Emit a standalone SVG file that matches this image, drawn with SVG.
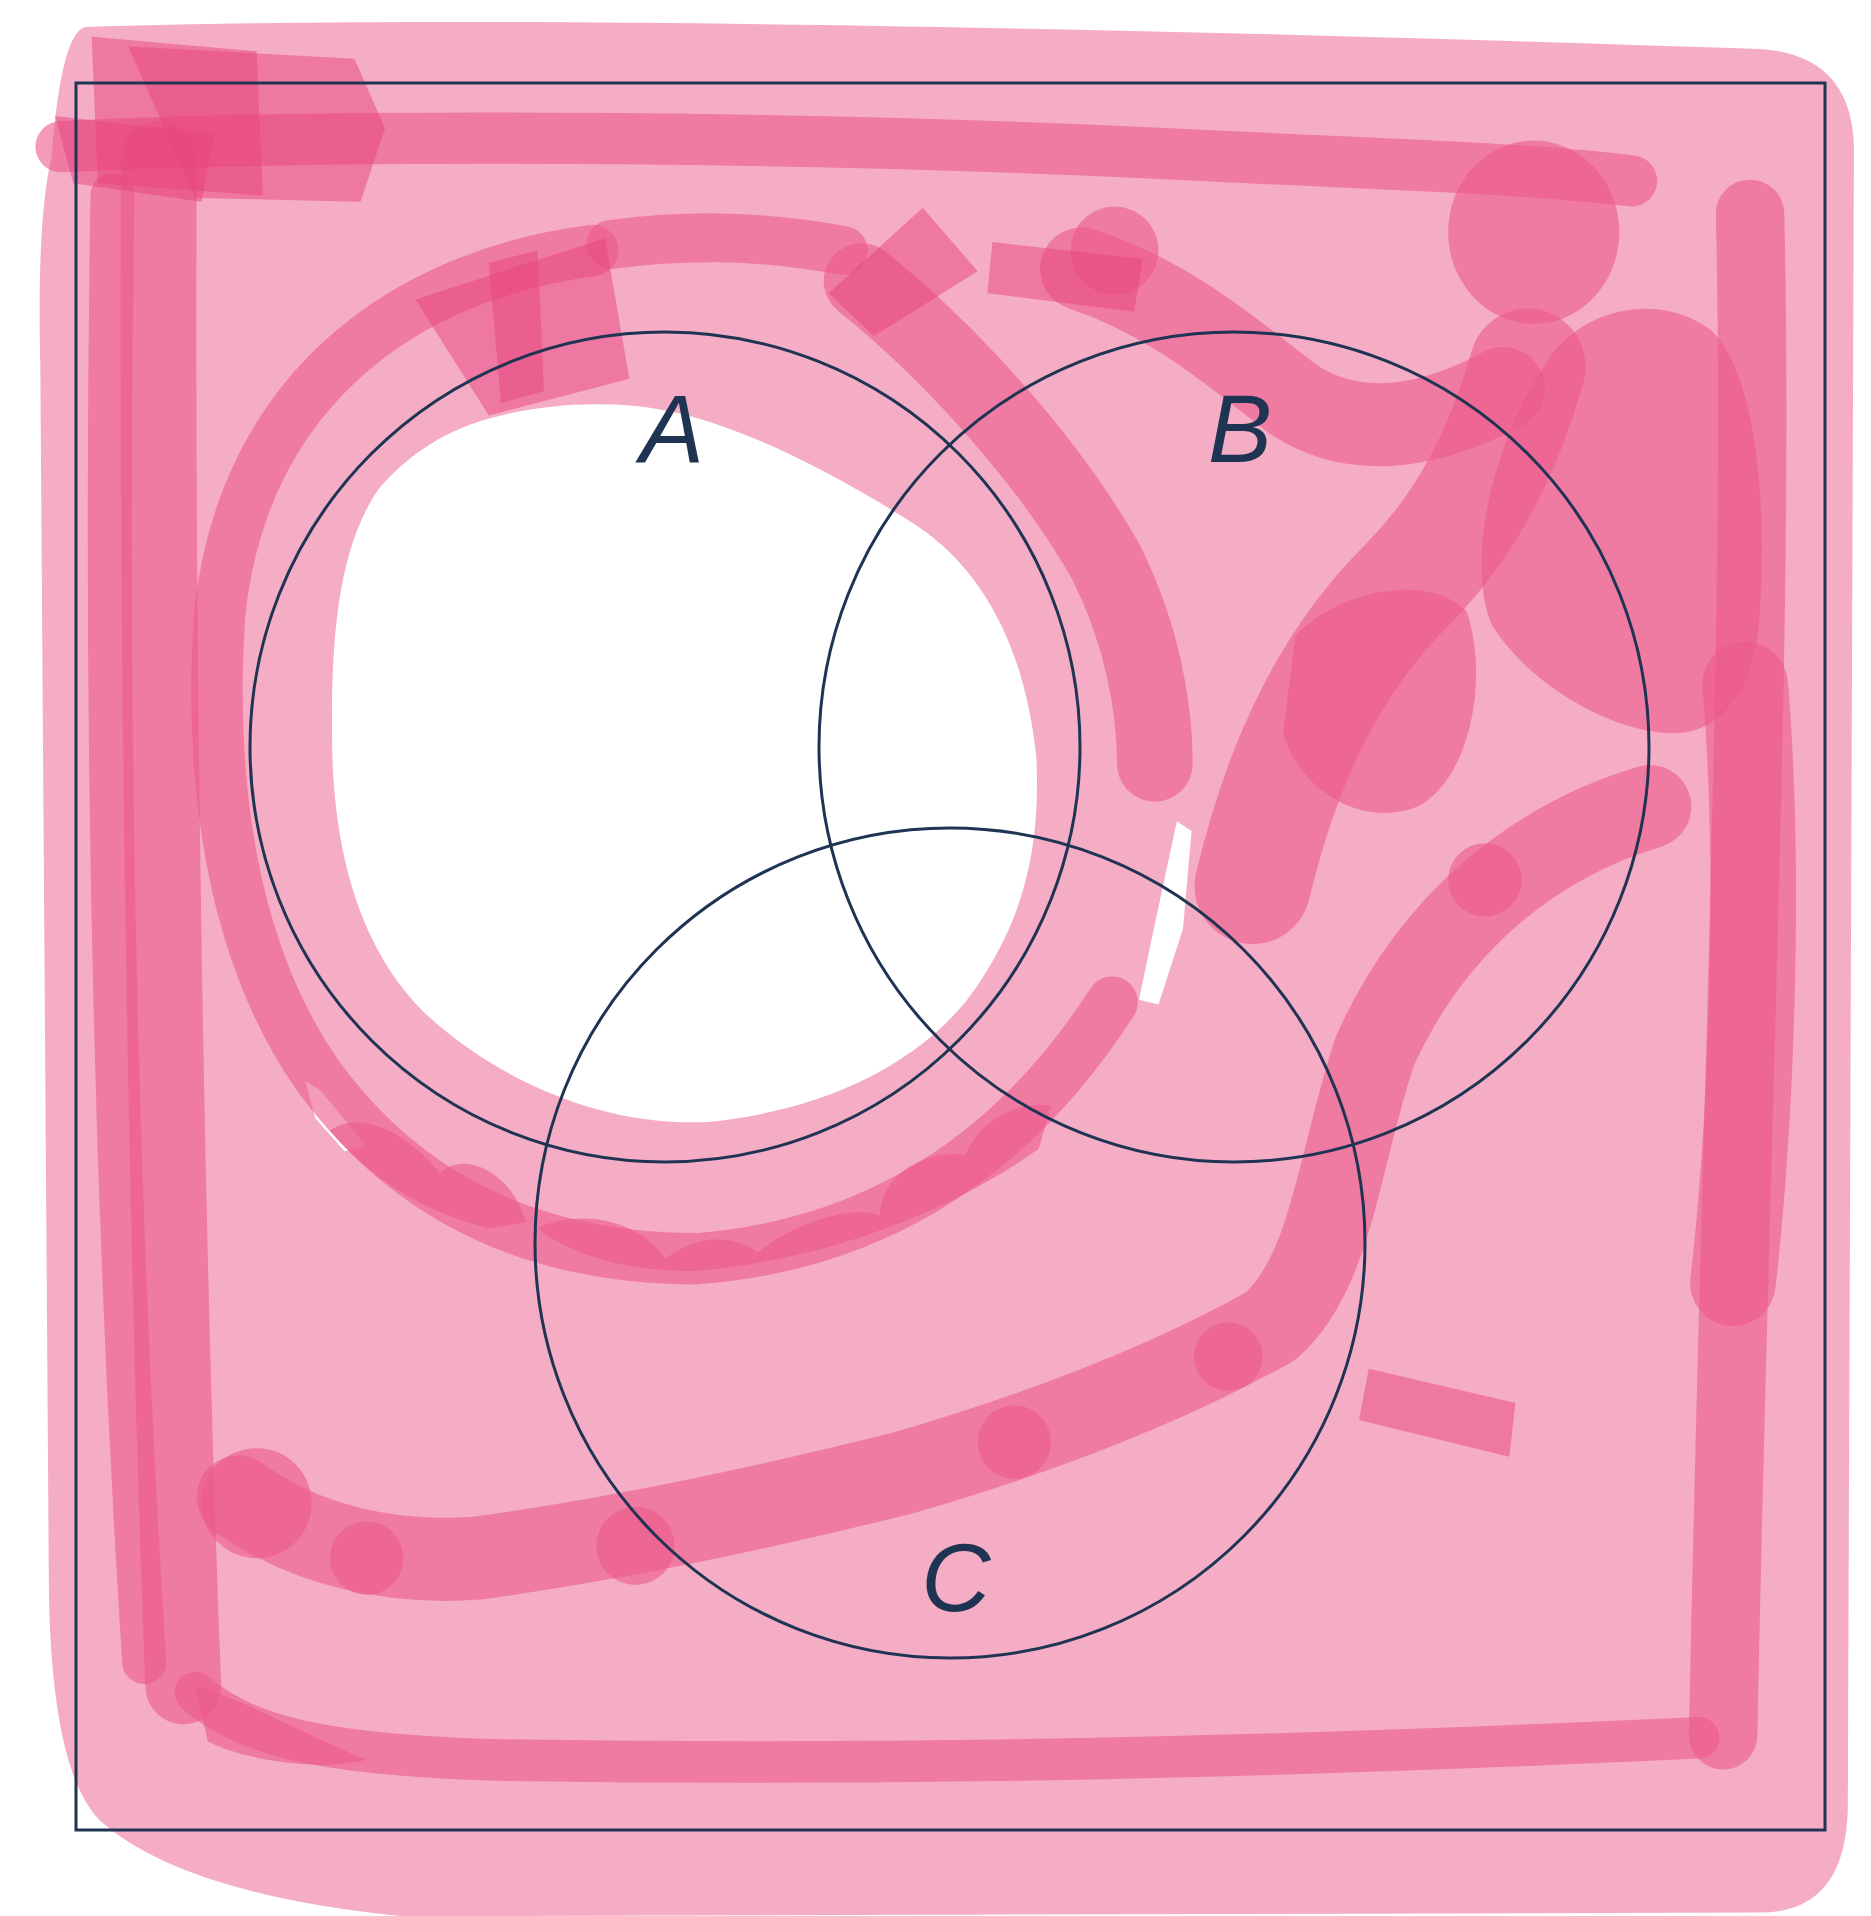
<svg xmlns="http://www.w3.org/2000/svg" width="1871" height="1916" viewBox="0 0 1871 1916">
<style>
.base{fill:#f5adc6}
.wh{fill:#ffffff}
.st{fill:none;stroke:#eb588a;stroke-opacity:0.6;stroke-linecap:round;stroke-linejoin:round}
.bl{fill:#eb588a;fill-opacity:0.6}
.pt{fill:#e8437d;fill-opacity:0.5}
.ln{fill:none;stroke:#1e3452;stroke-width:3}
.lbl{font-family:"Liberation Sans",Arial,sans-serif;font-style:italic;font-size:96px;fill:#1e3452;text-anchor:middle}
</style>
<rect width="1871" height="1916" fill="#ffffff"/>
<g id="shading" transform="scale(1.2221)">
  <path class="base" d="M 70,22 C 400,12 900,22 1440,40 Q 1515,45 1517,120 L 1512,1480 Q 1510,1565 1440,1565 L 330,1568 Q 150,1550 82,1490 Q 42,1450 40,1300 L 33,300 Q 30,180 42,130 Q 50,26 70,22 Z"/>
  <path class="wh" d="M 410,340 C 450,330 500,328 540,335 C 600,345 680,385 750,430 C 810,470 840,540 848,620 C 852,700 835,760 790,820 C 740,880 660,910 580,918 C 500,922 420,890 360,840 C 300,790 275,710 272,620 C 270,530 275,450 310,400 C 340,365 375,348 410,340 Z"/>
  <path class="wh" d="M 250,885 L 262,892 L 300,938 L 282,942 L 258,915 Z"/>
  <path class="wh" d="M 963,672 L 975,680 L 968,760 L 948,822 L 932,818 L 942,770 Z"/>
  <!-- top band -->
  <path class="st" stroke-width="42" d="M 50,120 C 300,108 700,112 1000,128 C 1150,135 1250,138 1335,148"/>
  <!-- left verticals -->
  <path class="st" stroke-width="62" d="M 130,130 C 128,500 135,1000 150,1380"/>
  <path class="st" stroke-width="36" d="M 92,160 C 85,600 95,1000 118,1360"/>
  <!-- bottom band -->
  <path class="st" stroke-width="34" d="M 160,1385 C 200,1420 260,1435 400,1440 C 700,1445 1000,1440 1390,1422"/>
  <path class="bl" d="M 160,1380 C 200,1390 250,1420 300,1440 C 260,1450 200,1440 170,1425 Z"/>
  <!-- right verticals -->
  <path class="st" stroke-width="56" d="M 1432,175 C 1440,500 1420,900 1410,1420"/>
  <path class="st" stroke-width="70" d="M 1428,560 C 1440,700 1435,900 1418,1050"/>
  <!-- ring around A -->
  <path class="st" stroke-width="42" d="M 485,205 C 330,225 200,320 180,500 C 170,640 190,780 260,880 C 340,990 450,1030 570,1030 C 700,1020 820,960 910,820"/>
  <path class="bl" d="M 270,925 C 300,905 340,935 360,960 C 380,940 420,960 430,1000 L 400,1005 C 340,990 300,960 270,925 Z"/>
  <path class="bl" d="M 440,1005 C 470,990 520,995 545,1030 C 570,1010 600,1010 620,1025 C 650,1000 700,985 720,995 C 720,960 760,940 790,945 C 800,920 830,900 860,905 L 850,940 C 780,990 680,1030 570,1040 C 520,1040 470,1030 440,1005 Z"/>
  <path class="st" stroke-width="40" d="M 500,200 C 560,192 620,192 690,205"/>
  <!-- diagonal band across A/B -->
  <path class="st" stroke-width="62" d="M 705,230 C 780,290 860,380 905,460 C 935,520 945,580 945,625"/>
  <!-- B region dark shapes -->
  <path class="st" stroke-width="95" d="M 1025,725 C 1050,620 1090,540 1150,480 C 1200,430 1230,370 1250,300"/>
  <path class="st" stroke-width="68" d="M 885,220 C 960,245 1010,290 1060,328 C 1110,360 1170,350 1230,318"/>
  <ellipse class="bl" cx="1255" cy="190" rx="70" ry="75"/>
  <path class="bl" d="M 1270,290 C 1300,250 1360,240 1400,270 C 1440,310 1445,420 1440,500 C 1438,560 1410,600 1370,600 C 1320,600 1250,560 1220,510 C 1200,460 1220,360 1270,290 Z"/>
  <circle class="bl" cx="912" cy="205" r="36"/>
  <path class="bl" d="M 1060,520 C 1100,480 1170,470 1200,500 C 1220,560 1200,640 1160,660 C 1110,680 1060,640 1050,600 Z"/>
  <!-- scalloped diagonal band -->
  <path class="st" stroke-width="68" d="M 1350,660 C 1250,690 1170,760 1125,860 C 1095,950 1090,1040 1040,1085 C 960,1130 860,1170 740,1205 C 620,1235 500,1260 390,1275 C 320,1280 250,1265 195,1225"/>
  <circle class="bl" cx="210" cy="1230" r="45"/>
  <circle class="bl" cx="300" cy="1275" r="30"/>
  <circle class="bl" cx="520" cy="1265" r="32"/>
  <circle class="bl" cx="830" cy="1180" r="30"/>
  <circle class="bl" cx="1005" cy="1110" r="28"/>
  <circle class="bl" cx="1215" cy="720" r="30"/>
  <!-- patches -->
  <path class="pt" d="M 75,30 L 210,42 L 215,160 L 80,150 Z"/>
  <path class="pt" d="M 105,38 L 290,48 L 315,105 L 295,165 L 160,162 Z"/>
  <path class="pt" d="M 45,95 L 175,110 L 165,165 L 60,150 Z"/>
  <path class="pt" d="M 340,245 L 495,195 L 515,310 L 400,340 Z"/>
  <path class="pt" d="M 400,215 L 440,205 L 445,320 L 410,330 Z"/>
  <path class="pt" d="M 678,240 L 755,170 L 800,222 L 715,275 Z"/>
  <path class="pt" d="M 812,198 L 935,212 L 928,255 L 808,240 Z"/>
  <path class="pt" d="M 1120,1120 L 1240,1148 L 1235,1192 L 1112,1162 Z"/>
</g>
<g id="frame">
  <rect class="ln" x="76" y="83" width="1749" height="1747"/>
</g>
<g id="setA">
  <circle class="ln" cx="665" cy="747" r="415"/>
  <text class="lbl" x="672" y="462">A</text>
</g>
<g id="setB">
  <circle class="ln" cx="1234" cy="747" r="415"/>
  <text class="lbl" x="1240" y="462">B</text>
</g>
<g id="setC">
  <circle class="ln" cx="950" cy="1243" r="415"/>
  <text class="lbl" x="956" y="1611">C</text>
</g>
<g id="connectors"></g>
</svg>
